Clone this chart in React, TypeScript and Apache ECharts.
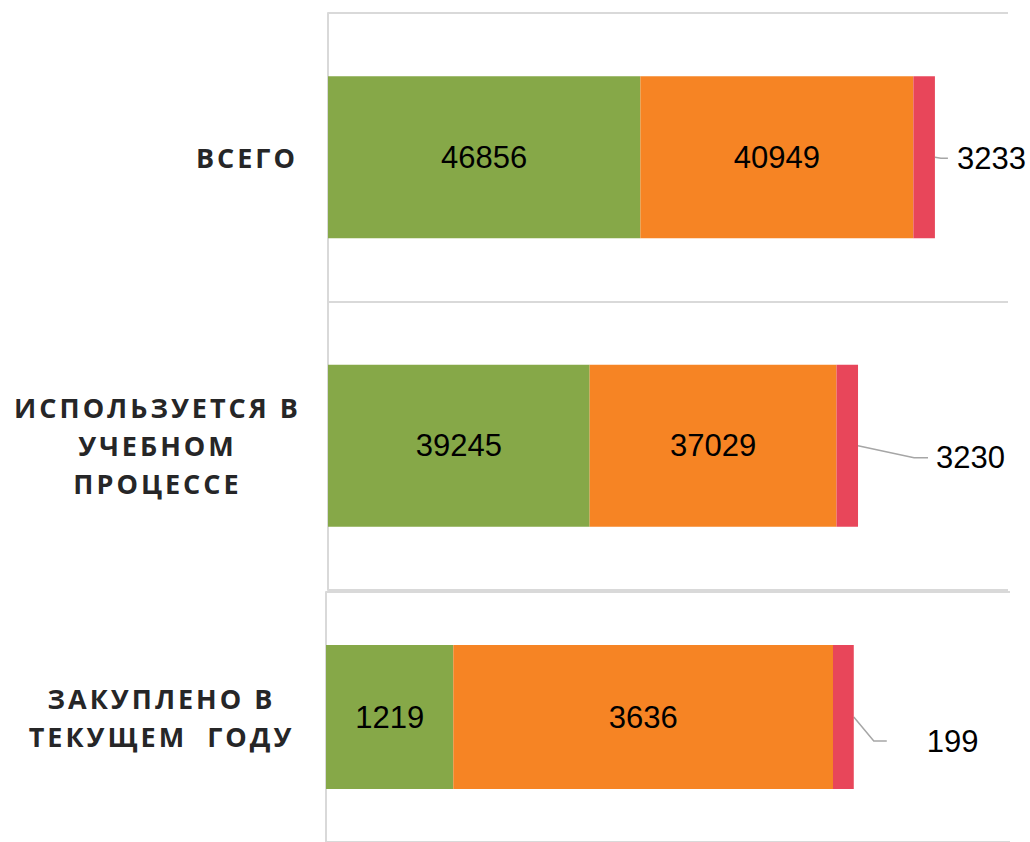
import React, { useEffect, useRef } from "react";
import * as echarts from "echarts";

const categoriesTop = ["ВСЕГО", "ИСПОЛЬЗУЕТСЯ В\nУЧЕБНОМ\nПРОЦЕССЕ"];
const greenTop = [46856, 39245];
const orangeTop = [40949, 37029];
const redTop = [3233, 3230];

const categoriesBottom = ["ЗАКУПЛЕНО В\nТЕКУЩЕМ  ГОДУ"];
const greenBottom = [1219];
const orangeBottom = [3636];
const redBottom = [199];

const GREEN = "#86A848";
const ORANGE = "#F68424";
const RED = "#E8465A";
const GRID_LINE = "#D9D9D9";
const CAT_COLOR = "#262627";
const LEADER = "#A6A6A6";
const LABEL_DIST = 5;

const valueLabel = {
  show: true,
  position: "inside" as const,
  color: "#000",
  fontSize: 31,
  fontFamily: "'Liberation Sans', Arial, sans-serif",
};

const catFont = {
  color: CAT_COLOR,
  fontFamily: "'Open Sans', sans-serif",
  fontWeight: "bold" as const,
  fontSize: 27,
  lineHeight: 38,
};

const catAxis = (gridIndex: number, data: string[], margin: number, blockWidth: number) => ({
  type: "category" as const,
  gridIndex,
  data,
  inverse: true,
  axisLine: { show: true, lineStyle: { color: GRID_LINE, width: 2 } },
  axisTick: { show: false },
  splitLine: { show: true, lineStyle: { color: GRID_LINE, width: 2 } },
  axisLabel: {
    align: "right" as const,
    margin,
    ...catFont,
    formatter: (v: string) =>
      v.includes("\n") ? v.split("\n").map((l) => `{c|${l}}`).join("\n") : v,
    rich: { c: { ...catFont, width: blockWidth, align: "center" } },
  },
});

// outside-label offsets and leader line shape (bend x offset, gap before label)
const leaderTop = [
  { dx: 17, dy: 1, bend: 6, gap: 9 },
  { dx: 73, dy: 12, bend: 56, gap: 8 },
];
const leaderBottom = [{ dx: 68, dy: 24, bend: 20, gap: 40 }];

export default function App() {
  const ref = useRef<HTMLDivElement>(null);
  useEffect(() => {
    if (!ref.current) return;
    const chart = echarts.init(ref.current, undefined, { renderer: "svg" });
    const outsideLabel = { ...valueLabel, position: "right" as const, distance: LABEL_DIST };
    chart.setOption({
      animation: false,
      grid: [
        { left: 328, top: 13, width: 680, height: 577 },
        { left: 326, top: 592, width: 684, height: 252 },
      ],
      xAxis: [
        { type: "value", gridIndex: 0, min: 0, max: 102000, show: false },
        { type: "value", gridIndex: 1, min: 0, max: 6550, show: false },
      ],
      yAxis: [
        catAxis(0, categoriesTop, 30, 281),
        catAxis(1, categoriesBottom, 31, 267),
      ],
      series: [
        {
          type: "bar", xAxisIndex: 0, yAxisIndex: 0, stack: "top",
          data: greenTop, barWidth: 162, itemStyle: { color: GREEN }, label: valueLabel,
        },
        {
          type: "bar", xAxisIndex: 0, yAxisIndex: 0, stack: "top",
          data: orangeTop, barWidth: 162, itemStyle: { color: ORANGE }, label: valueLabel,
        },
        {
          type: "bar", xAxisIndex: 0, yAxisIndex: 0, stack: "top",
          data: redTop, barWidth: 162, itemStyle: { color: RED },
          label: outsideLabel,
          labelLayout: (p: any) => ({ dx: leaderTop[p.dataIndex].dx, dy: leaderTop[p.dataIndex].dy, hideOverlap: false }),
        },
        {
          type: "bar", xAxisIndex: 1, yAxisIndex: 1, stack: "bottom",
          data: greenBottom, barWidth: 144, itemStyle: { color: GREEN }, label: valueLabel,
        },
        {
          type: "bar", xAxisIndex: 1, yAxisIndex: 1, stack: "bottom",
          data: orangeBottom, barWidth: 144, itemStyle: { color: ORANGE }, label: valueLabel,
        },
        {
          type: "bar", xAxisIndex: 1, yAxisIndex: 1, stack: "bottom",
          data: redBottom, barWidth: 144, itemStyle: { color: RED },
          label: outsideLabel,
          labelLayout: (p: any) => ({ dx: leaderBottom[p.dataIndex].dx, dy: leaderBottom[p.dataIndex].dy, hideOverlap: false }),
        },
      ],
    });

    // leader lines from each stacked bar's end (found through the axes) to its moved label
    const makeLeaders = (
      gridIdx: number,
      greens: number[],
      oranges: number[],
      reds: number[],
      cfgs: { dx: number; dy: number; bend: number; gap: number }[]
    ) =>
      greens.map((g, i) => {
        const total = g + oranges[i] + reds[i];
        const [x, y] = chart.convertToPixel({ xAxisIndex: gridIdx, yAxisIndex: gridIdx }, [total, i]);
        const c = cfgs[i];
        const ly = y + c.dy;
        const lx = x + LABEL_DIST + c.dx;
        return {
          type: "polyline",
          silent: true,
          shape: { points: [[x, y], [x + c.bend, ly], [lx - c.gap, ly]] },
          style: { stroke: LEADER, lineWidth: 1.5, fill: "none" },
        };
      });

    chart.setOption({
      graphic: [
        ...makeLeaders(0, greenTop, orangeTop, redTop, leaderTop),
        ...makeLeaders(1, greenBottom, orangeBottom, redBottom, leaderBottom),
      ],
    });
    return () => chart.dispose();
  }, []);
  return (
    <>
      <style>{`text[fill="${CAT_COLOR}"]{letter-spacing:3px;}`}</style>
      <div
        ref={ref}
        style={{ position: "fixed", left: 0, top: 0, width: 1030, height: 842, background: "#fff" }}
      />
    </>
  );
}
